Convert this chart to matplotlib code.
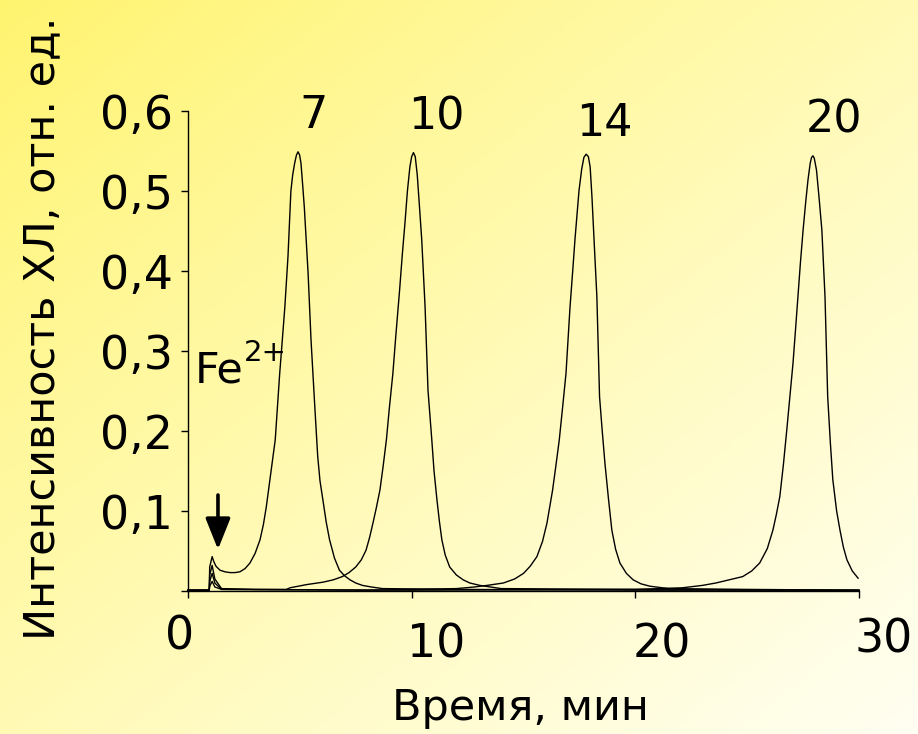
import numpy as np
import matplotlib
matplotlib.use("Agg")
import matplotlib.pyplot as plt
from matplotlib.transforms import ScaledTranslation

plt.rcParams['font.family'] = ['DejaVu Sans']

# Chemiluminescence traces, one per flash; time in minutes, intensity in rel. units
t7 = [0, 0.95, 0.97, 1.08, 1.15, 1.25, 1.43, 1.65, 1.88, 2.1, 2.32, 2.55, 2.77,
      3.0, 3.22, 3.37, 3.5, 3.7, 3.9, 4.1, 4.22, 4.33, 4.47, 4.6, 4.68, 4.77,
      4.85, 4.92, 4.99, 5.05, 5.12, 5.2, 5.37, 5.5, 5.67, 5.8, 5.9, 6.03, 6.18,
      6.33, 6.55, 6.77, 7.0, 7.24, 7.5, 7.8, 8.2, 8.7, 12, 20, 30]
i7 = [0.001, 0.001, 0.03, 0.043, 0.037, 0.031, 0.026, 0.024, 0.023, 0.023, 0.024,
      0.028, 0.035, 0.047, 0.064, 0.083, 0.105, 0.147, 0.189, 0.272, 0.315, 0.355,
      0.418, 0.50, 0.52, 0.535, 0.545, 0.549, 0.545, 0.535, 0.51, 0.48, 0.397,
      0.314, 0.23, 0.168, 0.138, 0.114, 0.086, 0.064, 0.041, 0.026, 0.019, 0.014,
      0.01, 0.007, 0.005, 0.003, 0.002, 0.001, 0.001]

t10 = [0, 0.95, 0.97, 1.08, 1.2, 1.5, 3.0, 4.4, 4.56, 5.3, 6.03, 6.5, 6.9, 7.2,
       7.5, 7.75, 7.96, 8.12, 8.27, 8.42, 8.58, 8.72, 8.87, 9.0, 9.16, 9.3, 9.46,
       9.58, 9.7, 9.81, 9.92, 10.0, 10.08, 10.16, 10.25, 10.35, 10.45, 10.6,
       10.73, 10.9, 11.0, 11.13, 11.24, 11.35, 11.5, 11.7, 12.0, 12.3, 12.6,
       13.05, 14.0, 20, 30]
i10 = [0.001, 0.001, 0.02, 0.032, 0.015, 0.003, 0.002, 0.002, 0.004, 0.008, 0.011,
       0.014, 0.018, 0.023, 0.03, 0.039, 0.051, 0.067, 0.085, 0.104, 0.126, 0.155,
       0.189, 0.228, 0.272, 0.322, 0.376, 0.42, 0.46, 0.5, 0.53, 0.543, 0.548,
       0.543, 0.52, 0.48, 0.439, 0.355, 0.251, 0.189, 0.15, 0.114, 0.087, 0.064,
       0.045, 0.03, 0.02, 0.014, 0.01, 0.007, 0.003, 0.002, 0.001]

t14 = [0, 0.95, 0.97, 1.08, 1.2, 1.5, 8, 12.0, 12.8, 13.37, 14.1, 14.6, 15.0,
       15.3, 15.6, 15.85, 16.05, 16.3, 16.45, 16.6, 16.75, 16.9, 17.08, 17.2,
       17.3, 17.48, 17.6, 17.7, 17.8, 17.9, 17.98, 18.06, 18.17, 18.28, 18.4,
       18.52, 18.64, 18.8, 18.95, 19.12, 19.31, 19.6, 19.9, 20.25, 20.65, 21.5,
       25, 30]
i14 = [0.001, 0.001, 0.012, 0.022, 0.01, 0.002, 0.001, 0.003, 0.005, 0.007, 0.01,
       0.015, 0.022, 0.031, 0.043, 0.062, 0.085, 0.126, 0.157, 0.189, 0.23, 0.272,
       0.355, 0.4, 0.439, 0.5, 0.527, 0.542, 0.546, 0.543, 0.53, 0.493, 0.43,
       0.368, 0.243, 0.2, 0.16, 0.115, 0.076, 0.052, 0.035, 0.022, 0.014, 0.009,
       0.006, 0.003, 0.002, 0.001]

t20 = [0, 0.95, 0.97, 1.08, 1.2, 1.5, 10, 20, 22.1, 23.0, 23.6, 24.2, 24.8, 25.2,
       25.56, 25.9, 26.15, 26.3, 26.46, 26.62, 26.77, 26.9, 27.05, 27.16, 27.27,
       27.38, 27.5, 27.62, 27.72, 27.82, 27.88, 27.94, 28.0, 28.1, 28.22, 28.34,
       28.48, 28.6, 28.72, 28.83, 29.0, 29.15, 29.3, 29.46, 29.7, 29.96]
i20 = [0.001, 0.001, 0.006, 0.012, 0.005, 0.002, 0.001, 0.002, 0.004, 0.007, 0.01,
       0.014, 0.018, 0.025, 0.035, 0.053, 0.076, 0.095, 0.118, 0.158, 0.201, 0.24,
       0.285, 0.326, 0.368, 0.41, 0.451, 0.487, 0.514, 0.535, 0.542, 0.544, 0.541,
       0.526, 0.49, 0.451, 0.368, 0.243, 0.185, 0.139, 0.1, 0.076, 0.055, 0.039,
       0.025, 0.016]

peak_labels = ['7', '10', '14', '20']
peak_label_pos = [(5.6, 0.595), (11.1, 0.592), (18.6, 0.584), (28.9, 0.589)]

x_ticks = [0, 10, 20, 30]
x_tick_labels = ['0', '10', '20', '30']
y_ticks = [0, 0.1, 0.2, 0.3, 0.4, 0.5, 0.6]
y_tick_labels = ['', '0,1', '0,2', '0,3', '0,4', '0,5', '0,6']

W, H = 918, 734
fig = plt.figure(figsize=(W / 100, H / 100), dpi=100)

# diagonal yellow-to-cream background
bg = fig.add_axes([0, 0, 1, 1], zorder=-10)
u = np.linspace(0, 1, 300)[None, :]
v = np.linspace(0, 1, 240)[:, None]
s = np.clip((u + v) / 2.0, 0, 1) ** 0.9
c0 = np.array([255, 244, 110]) / 255.0
c1 = np.array([255, 255, 242]) / 255.0
img = c0[None, None, :] + s[:, :, None] * (c1 - c0)[None, None, :]
bg.imshow(img, aspect='auto', extent=[0, 1, 0, 1], origin='upper')
bg.set_axis_off()

ax = fig.add_axes([188 / W, 1 - 591 / H, (859 - 188) / W, (591 - 111) / H])
ax.patch.set_alpha(0)

for t, i in [(t7, i7), (t10, i10), (t14, i14), (t20, i20)]:
    ax.plot(t, i, color='black', lw=1.0, solid_joinstyle='round', clip_on=False)

ax.set_xlim(0, 30)
ax.set_ylim(0, 0.6)
for side in ['top', 'right']:
    ax.spines[side].set_visible(False)
for side in ['left', 'bottom']:
    ax.spines[side].set_linewidth(1.0)
    ax.spines[side].set_color('black')

ax.set_xticks(x_ticks)
ax.set_xticklabels(x_tick_labels)
ax.set_yticks(y_ticks)
ax.set_yticklabels(y_tick_labels)
ax.tick_params(direction='out', length=5, width=1.0, labelsize=33, colors='black')
ax.tick_params(axis='x', pad=12)
ax.tick_params(axis='y', pad=6)

x_shift = [(-8, 0), (24, -8), (26, -8), (25, -3)]
for lab, (dx, dy) in zip(ax.get_xticklabels(), x_shift):
    lab.set_transform(lab.get_transform() + ScaledTranslation(dx / 100, dy / 100, fig.dpi_scale_trans))

for txt, (px, py) in zip(peak_labels, peak_label_pos):
    ax.text(px, py, txt, fontsize=32, ha='center', va='center', clip_on=False)

# Fe2+ marker: element symbol with raised charge
ax.text(0.31, 0.261, 'Fe', fontsize=31, ha='left', va='baseline')
ax.text(2.5, 0.287, '2+', fontsize=21, ha='left', va='baseline')
ax.annotate('', xy=(1.34, 0.052), xytext=(1.34, 0.12),
            arrowprops=dict(arrowstyle='-|>,head_width=0.38,head_length=0.95',
                            mutation_scale=20, color='black', lw=2.6,
                            shrinkA=0, shrinkB=0))

fig.text(42 / W, 1 - 328 / H, 'Интенсивность ХЛ, отн. ед.', rotation=90,
         fontsize=31, ha='center', va='center')
fig.text(520 / W, 1 - 708 / H, 'Время, мин', fontsize=31, ha='center', va='center')

fig.savefig('out.png', dpi=100)
